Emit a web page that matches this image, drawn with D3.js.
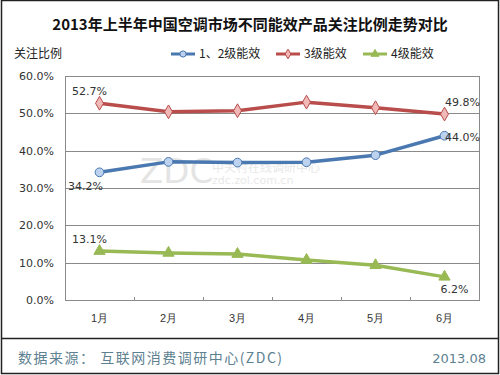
<!DOCTYPE html>
<html>
<head>
<meta charset="utf-8">
<script src="https://cdn.jsdelivr.net/npm/d3@7"></script>
<style>
  body { margin: 0; background: #fff; }
  svg { font-family: "Noto Sans CJK SC", "DejaVu Sans", sans-serif; }
</style>
</head>
<body>
<svg id="chart"></svg>
<script>
const months = ["1月", "2月", "3月", "4月", "5月", "6月"];
const seriesNames = ["1、2级能效", "3级能效", "4级能效"];
const level12 = [34.2, 37.0, 36.8, 36.9, 38.8, 44.0];
const level3 = [52.7, 50.4, 50.7, 53.0, 51.5, 49.8];
const level4 = [13.1, 12.6, 12.3, 10.7, 9.3, 6.2];
const yTicks = [0, 10, 20, 30, 40, 50, 60];

const width = 500, height = 375;
const margin = {top: 76, right: 21, bottom: 75, left: 65};

const svg = d3.select("#chart")
  .attr("width", width)
  .attr("height", height);

// outer frame
svg.append("rect")
  .attr("x", 1.5).attr("y", 0.5)
  .attr("width", width - 3).attr("height", height - 2)
  .attr("fill", "#fff")
  .attr("stroke", "#222")
  .attr("stroke-width", 1.5);

svg.append("text")
  .attr("x", width / 2).attr("y", 30)
  .attr("text-anchor", "middle")
  .style("font-size", "15px")
  .style("font-weight", "bold")
  .attr("fill", "#111")
  .text("2013年上半年中国空调市场不同能效产品关注比例走势对比");

svg.append("text")
  .attr("x", 14).attr("y", 58)
  .style("font-size", "12px")
  .attr("fill", "#222")
  .text("关注比例");

const x = d3.scaleBand()
  .domain(months)
  .range([margin.left, width - margin.right]);

const y = d3.scaleLinear()
  .domain([0, 60])
  .range([height - margin.bottom, margin.top]);

// watermark
svg.append("text")
  .attr("x", 140).attr("y", 183)
  .style("font-size", "34px")
  .style("font-family", "DejaVu Sans")
  .attr("fill", "#e4e4e4")
  .text("ZDC");
svg.append("text")
  .attr("x", 212).attr("y", 172)
  .style("font-size", "12px")
  .attr("fill", "#e8e8e8")
  .text("中关村在线调研中心");
svg.append("text")
  .attr("x", 212).attr("y", 184)
  .style("font-size", "11px")
  .style("font-family", "DejaVu Sans")
  .attr("fill", "#e8e8e8")
  .text("zdc.zol.com.cn");

// grid
svg.append("g")
  .selectAll("line")
  .data(yTicks)
  .join("line")
  .attr("x1", margin.left).attr("x2", width - margin.right)
  .attr("y1", d => Math.round(y(d)) + 0.5)
  .attr("y2", d => Math.round(y(d)) + 0.5)
  .attr("stroke", "#8a8a8a")
  .attr("stroke-width", 1);

// plot frame
svg.append("rect")
  .attr("x", margin.left + 0.5).attr("y", Math.round(y(60)) + 0.5)
  .attr("width", width - margin.right - margin.left)
  .attr("height", Math.round(y(0)) - Math.round(y(60)))
  .attr("fill", "none")
  .attr("stroke", "#8a8a8a");

// y axis labels
const yAxis = d3.axisLeft(y)
  .tickValues(yTicks)
  .tickSize(0)
  .tickPadding(11)
  .tickFormat(d => d.toFixed(1) + "%");
svg.append("g")
  .attr("transform", `translate(${margin.left},0)`)
  .call(yAxis)
  .call(g => g.select(".domain").remove())
  .selectAll("text")
  .style("font-family", "DejaVu Sans")
  .style("font-size", "11px")
  .attr("fill", "#333");

// x axis
const xAxis = d3.axisBottom(x).tickSize(0).tickPadding(14);
svg.append("g")
  .attr("transform", `translate(0,${height - margin.bottom})`)
  .call(xAxis)
  .call(g => g.select(".domain").remove())
  .selectAll("text")
  .style("font-size", "11px")
  .attr("fill", "#333");

// inner ticks between categories
svg.append("g")
  .selectAll("line")
  .data(months.slice(1))
  .join("line")
  .attr("x1", d => Math.round(x(d)) + 0.5)
  .attr("x2", d => Math.round(x(d)) + 0.5)
  .attr("y1", y(0) - 3).attr("y2", y(0))
  .attr("stroke", "#8a8a8a");

const series = [
  {name: seriesNames[0], values: level12, line: "#4a78b0", fill: "#bcd2ee", marker: d3.symbolCircle, size: 60},
  {name: seriesNames[1], values: level3, line: "#b84d4b", fill: "#f0b8b6", marker: d3.symbolDiamond, size: 55},
  {name: seriesNames[2], values: level4, line: "#98b954", fill: "#98b954", marker: d3.symbolTriangle, size: 55}
];

const cx = d => x(d) + x.bandwidth() / 2;
const line = d3.line()
  .x((d, i) => cx(months[i]))
  .y(d => y(d));

series.forEach(s => {
  svg.append("path")
    .datum(s.values)
    .attr("d", line)
    .attr("fill", "none")
    .attr("stroke", s.line)
    .attr("stroke-width", 3.5)
    .attr("stroke-linejoin", "round");
  svg.append("g")
    .selectAll("path")
    .data(s.values)
    .join("path")
    .attr("d", d3.symbol().type(s.marker).size(s.size))
    .attr("transform", (d, i) => `translate(${cx(months[i])},${y(d)})`)
    .attr("fill", s.fill)
    .attr("stroke", s.line)
    .attr("stroke-width", 1);
});

// data labels at the ends
const labels = [
  {v: level3[0], i: 0, dx: -10, dy: -8},
  {v: level12[0], i: 0, dx: -14, dy: 18},
  {v: level4[0], i: 0, dx: -10, dy: -8},
  {v: level3[5], i: 5, dx: 18, dy: -8},
  {v: level12[5], i: 5, dx: 18, dy: 5},
  {v: level4[5], i: 5, dx: 10, dy: 16}
];
svg.append("g")
  .selectAll("text")
  .data(labels)
  .join("text")
  .attr("x", d => cx(months[d.i]) + d.dx)
  .attr("y", d => y(d.v) + d.dy)
  .attr("text-anchor", "middle")
  .style("font-family", "DejaVu Sans")
  .style("font-size", "11px")
  .attr("fill", "#333")
  .text(d => d.v.toFixed(1) + "%");

// legend
const legendX = [171, 276, 363];
const legend = svg.append("g")
  .selectAll("g")
  .data(series)
  .join("g")
  .attr("transform", (d, i) => `translate(${legendX[i]},54)`);
legend.append("line")
  .attr("x1", 0).attr("x2", 24)
  .attr("stroke", d => d.line)
  .attr("stroke-width", 3);
legend.append("path")
  .attr("d", d => d3.symbol().type(d.marker).size(d.size * 0.5)())
  .attr("transform", "translate(12,0)")
  .attr("fill", d => d.fill)
  .attr("stroke", d => d.line);
legend.append("text")
  .attr("x", 28).attr("y", 4)
  .style("font-size", "12px")
  .attr("fill", "#222")
  .text(d => d.name);

// footer
svg.append("line")
  .attr("x1", 2).attr("x2", width - 2)
  .attr("y1", 338.5).attr("y2", 338.5)
  .attr("stroke", "#222")
  .attr("stroke-width", 1.5);
svg.append("text")
  .attr("x", 18).attr("y", 363)
  .style("font-size", "14px")
  .style("letter-spacing", "1.5px")
  .attr("fill", "#5e8190")
  .text("数据来源： 互联网消费调研中心(ZDC)");
svg.append("text")
  .attr("x", 486).attr("y", 363)
  .attr("text-anchor", "end")
  .style("font-size", "13px")
  .style("font-family", "DejaVu Sans")
  .attr("fill", "#5e8190")
  .text("2013.08");
</script>
</body>
</html>
